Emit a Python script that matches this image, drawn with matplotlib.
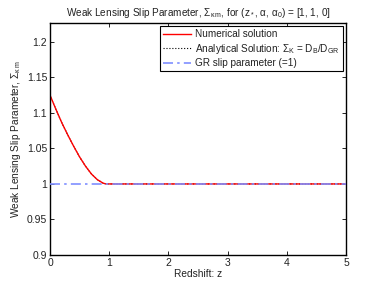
import matplotlib
matplotlib.use("Agg")
import matplotlib.pyplot as plt

plt.rcParams['font.family'] = ['Liberation Sans', 'DejaVu Sans']
plt.rcParams['mathtext.fontset'] = 'custom'
plt.rcParams['mathtext.rm'] = 'Liberation Sans'
plt.rcParams['mathtext.it'] = 'Liberation Sans'
plt.rcParams['mathtext.sf'] = 'Liberation Sans'

# Data
z_num = [0, 0.1, 0.2, 0.3, 0.4, 0.5, 0.6, 0.7, 0.8, 0.9, 0.95, 1.5, 2, 3, 4, 5]
sigma_num = [1.125, 1.105, 1.086, 1.069, 1.053, 1.038, 1.025, 1.014, 1.006, 1.001, 1.0,
             1.0, 1.0, 1.0, 1.0, 1.0]
z_ana = z_num
sigma_ana = sigma_num
z_gr = [0, 5]
sigma_gr = [1, 1]
xticks = [0, 1, 2, 3, 4, 5]
yticks = [0.9, 0.95, 1.0, 1.05, 1.1, 1.15, 1.2]
yticklabels = ['0.9', '0.95', '1', '1.05', '1.1', '1.15', '1.2']

fig = plt.figure(figsize=(3.82, 2.87), dpi=100)
ax = fig.add_axes([50/382, 1-255/287, 296/382, 232/287])

l_ana, = ax.plot(z_ana, sigma_ana, color='black', linestyle=':', linewidth=0.8, zorder=1,
                 label=r'Analytical Solution: $\Sigma_K$ = D$_B$/D$_{GR}$')
l_num, = ax.plot(z_num, sigma_num, color='#ff0000', linewidth=1.0, zorder=2,
                 label='Numerical solution')
l_gr, = ax.plot(z_gr, sigma_gr, color='#7f8fff', linestyle=(0, (6, 2.5, 1.5, 2.5)), linewidth=1.2, zorder=3,
                label='GR slip parameter (=1)')

ax.set_xlim(0, 5)
ax.set_ylim(0.9, 1.2265)
ax.set_xticks(xticks)
ax.set_yticks(yticks)
ax.set_yticklabels(yticklabels)
ax.tick_params(direction='in', top=True, right=True, labelsize=7.5, length=3, width=0.6, pad=2,
               labelcolor='#222222')
for s in ax.spines.values():
    s.set_linewidth(1.0)

ax.set_xlabel('Redshift: z', fontsize=7.3, labelpad=1, color='#222222')
ax.set_ylabel(r'Weak Lensing Slip Parameter, $\Sigma_{\kappa\,m}$', fontsize=7.3, labelpad=3, color='#222222')
ax.set_title(r'Weak Lensing Slip Parameter, $\Sigma_{\kappa\,m}$, for ($z_*$, $\alpha$, $\alpha_0$) = [1, 1, 0]',
             fontsize=7.2, pad=5, color='#222222')

leg = ax.legend(handles=[l_num, l_ana, l_gr], loc='upper right', fontsize=7.2, frameon=True,
                fancybox=False, edgecolor='black', framealpha=1, handlelength=2.8,
                borderpad=0.3, labelspacing=0.25, handletextpad=0.4, borderaxespad=0.3)
leg.get_frame().set_linewidth(0.8)
for t in leg.get_texts():
    t.set_color('#222222')

fig.savefig('out.png', dpi=100)
